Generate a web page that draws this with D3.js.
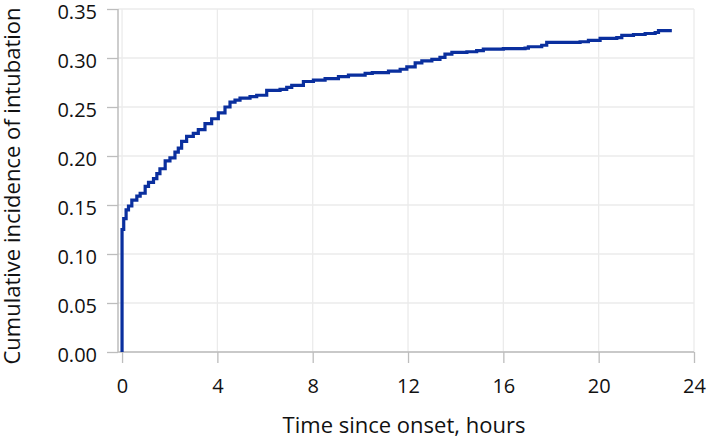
<!DOCTYPE html>
<html>
<head>
<meta charset="utf-8">
<script src="https://cdn.jsdelivr.net/npm/d3@7"></script>
<style>
  body { margin: 0; background: #fff; }
  text { font-family: "Open Sans", "Noto Sans", sans-serif; fill: #111; }
</style>
</head>
<body>
<script>
// step curve: time in hours, cumulative incidence
var times = [0, 0, 0.07, 0.17, 0.27, 0.41, 0.62, 0.76, 0.97, 1.11, 1.32, 1.46, 1.59, 1.81, 2.01, 2.22, 2.36, 2.50, 2.71, 2.99, 3.20, 3.48, 3.76, 4.04, 4.32, 4.53, 4.74, 4.95, 5.37, 5.65, 6.07, 6.63, 6.91, 7.12, 7.61, 8.03, 8.52, 9.08, 9.50, 10.20, 10.50, 11.18, 11.67, 11.95, 12.30, 12.58, 13.00, 13.34, 13.55, 13.84, 14.47, 14.88, 15.16, 16.00, 16.91, 17.05, 17.61, 17.82, 19.22, 19.57, 20.06, 20.76, 20.97, 21.46, 21.95, 22.37, 22.51, 23.07];
var incidence = [0, 0.125, 0.136, 0.145, 0.149, 0.155, 0.159, 0.162, 0.169, 0.173, 0.177, 0.182, 0.187, 0.195, 0.198, 0.204, 0.208, 0.215, 0.220, 0.223, 0.227, 0.233, 0.238, 0.244, 0.250, 0.255, 0.257, 0.259, 0.2605, 0.262, 0.267, 0.268, 0.270, 0.272, 0.276, 0.2775, 0.279, 0.281, 0.2826, 0.2844, 0.285, 0.2867, 0.2885, 0.291, 0.295, 0.297, 0.2986, 0.3007, 0.304, 0.3058, 0.3064, 0.3075, 0.309, 0.3095, 0.310, 0.3115, 0.313, 0.316, 0.3166, 0.318, 0.320, 0.3207, 0.323, 0.324, 0.325, 0.326, 0.328, 0.328];

var xTicks = [0, 4, 8, 12, 16, 20, 24];
var yTicks = [0, 0.05, 0.10, 0.15, 0.20, 0.25, 0.30, 0.35];

var margin = { top: 9, right: 14, bottom: 88, left: 118 },
    outerWidth = 708,
    outerHeight = 440,
    width = outerWidth - margin.left - margin.right,
    height = outerHeight - margin.top - margin.bottom;

var svg = d3.select("body").append("svg").attr("width", outerWidth).attr("height", outerHeight);
var g = svg.append("g").attr("transform", "translate(" + margin.left + "," + margin.top + ")");

var x = d3.scaleLinear().domain([-0.17, 24]).range([0, width]);
var y = d3.scaleLinear().domain([0, 0.35]).range([height, 0]);

// grid
g.append("g").selectAll("line").data(yTicks).join("line")
  .attr("x1", 0).attr("x2", width)
  .attr("y1", function (d) { return y(d); }).attr("y2", function (d) { return y(d); })
  .attr("stroke", "#ebebeb").attr("stroke-width", 1.3);
g.append("g").selectAll("line").data(xTicks).join("line")
  .attr("x1", function (d) { return x(d); }).attr("x2", function (d) { return x(d); })
  .attr("y1", 0).attr("y2", height)
  .attr("stroke", "#ebebeb").attr("stroke-width", 1.3);

var xAxis = d3.axisBottom(x).tickValues(xTicks).tickSize(11).tickPadding(16).tickFormat(d3.format("d"));
var yAxis = d3.axisLeft(y).tickValues(yTicks).tickSize(11).tickPadding(10).tickFormat(d3.format(".2f"));

var xg = g.append("g").attr("transform", "translate(0," + height + ")").call(xAxis);
var yg = g.append("g").call(yAxis);
[xg, yg].forEach(function (a) {
  a.select(".domain").attr("stroke", "#bdbdbd").attr("stroke-width", 1.5);
  a.selectAll(".tick line").attr("stroke", "#bdbdbd").attr("stroke-width", 1.3);
  a.selectAll(".tick text").attr("font-size", 20).attr("fill", "#111")
    .attr("font-family", "'Open Sans', 'Noto Sans', sans-serif");
});
yg.selectAll(".tick text").attr("dy", "0.48em");
yg.select(".domain").attr("d", "M0," + height + "V0");
xg.select(".domain").attr("d", "M0,0H" + width);

var pts = times.map(function (t, i) { return [t, incidence[i]]; });
var line = d3.line().x(function (d) { return x(d[0]); }).y(function (d) { return y(d[1]); }).curve(d3.curveStepAfter);
g.append("path").datum(pts).attr("d", line)
  .attr("fill", "none").attr("stroke", "#0a2f9e").attr("stroke-width", 3.2);

svg.append("text").attr("x", 404).attr("y", 433).attr("text-anchor", "middle")
  .attr("font-size", 22).text("Time since onset, hours");
svg.append("text").attr("transform", "translate(20,186) rotate(-90)").attr("text-anchor", "middle")
  .attr("font-size", 22).text("Cumulative incidence of intubation");
</script>
</body>
</html>
